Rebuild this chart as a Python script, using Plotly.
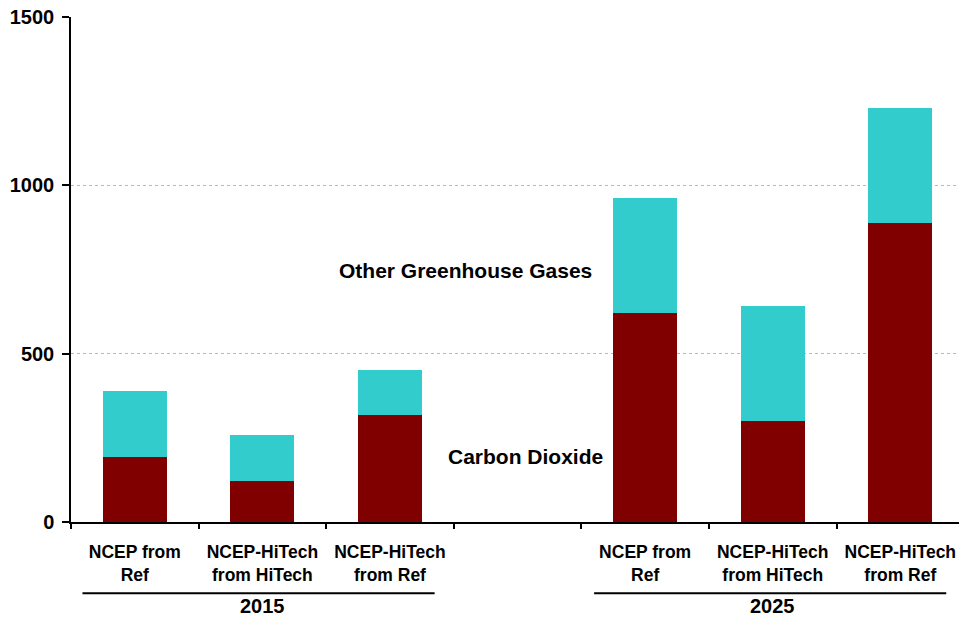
import plotly.graph_objects as go

categories = ["NCEP from<br>Ref", "NCEP-HiTech<br>from HiTech", "NCEP-HiTech<br>from Ref", "",
              "NCEP from<br>Ref", "NCEP-HiTech<br>from HiTech", "NCEP-HiTech<br>from Ref"]
co2 = [193, 122, 318, None, 621, 300, 888]
other = [196, 136, 133, None, 341, 341, 342]
groups = ["2015", "2025"]
group_centers = [1, 5]
group_spans = [(-0.41, 2.35), (3.6, 6.36)]
y_ticks = [0, 500, 1000, 1500]

x = list(range(len(categories)))
FONT = "Liberation Sans, Arial, sans-serif"

fig = go.Figure()
fig.add_trace(go.Bar(x=x, y=co2, width=0.5, marker=dict(color="#800000", line=dict(width=0)),
                     name="Carbon Dioxide", xaxis="x", yaxis="y"))
fig.add_trace(go.Bar(x=x, y=other, width=0.5, marker=dict(color="#33CCCC", line=dict(width=0)),
                     name="Other Greenhouse Gases", xaxis="x", yaxis="y"))
# invisible trace for boundary tick axis
fig.add_trace(go.Scatter(x=[0], y=[0], xaxis="x2", yaxis="y", mode="markers",
                         marker=dict(opacity=0), showlegend=False, hoverinfo="skip"))

xr = [-0.5, 6.46]
fig.update_layout(
    barmode="stack",
    width=959, height=618,
    margin=dict(l=71, r=0, t=17, b=96),
    paper_bgcolor="white", plot_bgcolor="white",
    showlegend=False,
    font=dict(family=FONT, color="black", size=17, weight="bold"),
    xaxis=dict(range=xr, tickvals=x, ticktext=categories, ticks="", showgrid=False,
               showline=True, linecolor="black", linewidth=1.5, zeroline=False,
               tickfont=dict(family=FONT, size=17.5, color="black", weight="bold"),
               ticklabelstandoff=13),
    xaxis2=dict(range=xr, overlaying="x", side="bottom", tickvals=[i - 0.5 for i in range(len(categories) + 1)],
                ticks="outside", ticklen=6, tickcolor="black", tickwidth=1.5, showticklabels=False,
                showgrid=False, showline=False, zeroline=False),
    yaxis=dict(range=[0, 1500], tickvals=y_ticks, ticks="outside", ticklen=7, tickcolor="black",
               tickwidth=1.5, showline=True, linecolor="black", linewidth=1.5,
               showgrid=True, gridcolor="#b8b8b8", griddash="dot", gridwidth=1, zeroline=False,
               tickfont=dict(family=FONT, size=20, color="black", weight="bold"),
               ticklabelstandoff=4),
)

for g, c, (a, b) in zip(groups, group_centers, group_spans):
    fig.add_shape(type="line", xref="x", yref="paper", x0=a, x1=b, y0=-0.141, y1=-0.141,
                  line=dict(color="black", width=2))
    fig.add_annotation(x=c, xref="x", y=-0.167, yref="paper", text=g, showarrow=False,
                       xanchor="center", yanchor="middle",
                       font=dict(family=FONT, size=20, color="black", weight="bold"))

W, H = 888, 505
def px_to_paper(px, py):
    return (px - 71) / W, (522 - py) / H

for label, (px, py) in [("Other Greenhouse Gases", (465, 270)), ("Carbon Dioxide", (525, 456))]:
    ax, ay = px_to_paper(px, py)
    fig.add_annotation(x=ax, xref="paper", y=ay, yref="paper", text=label, showarrow=False,
                       xanchor="center", yanchor="middle",
                       font=dict(family=FONT, size=21, color="black", weight="bold"))

fig.write_html("out.html", config={"displayModeBar": False},
               post_script="document.body.style.margin='0';")
